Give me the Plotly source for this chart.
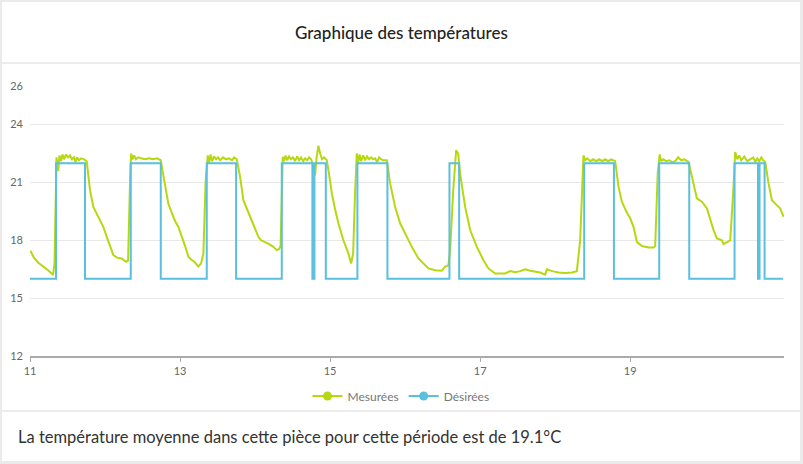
import plotly.graph_objects as go

# ---- data ----
title_text = "Graphique des températures"
footer_text = "La température moyenne dans cette pièce pour cette période est de 19.1°C"
series_names = ["Mesurées", "Désirées"]
x_ticks = [11, 13, 15, 17, 19]
y_ticks = [12, 15, 18, 21, 24, 26]

measured_day = [
    11.004, 11.053, 11.107, 11.160, 11.200, 11.240, 11.280, 11.307, 11.327, 11.353,
    11.367, 11.377, 11.393, 11.413, 11.433, 11.453, 11.480, 11.507, 11.533, 11.560,
    11.587, 11.607, 11.627, 11.653, 11.680, 11.720, 11.756, 11.777, 11.800, 11.844,
    11.889, 11.933, 11.977, 12.023, 12.067, 12.111, 12.160, 12.223, 12.280, 12.307,
    12.333, 12.347, 12.367, 12.387, 12.413, 12.440, 12.480, 12.533, 12.587, 12.640,
    12.693, 12.743, 12.767, 12.800, 12.844, 12.893, 12.933, 12.977, 13.027, 13.067,
    13.111, 13.147, 13.187, 13.213, 13.244, 13.280, 13.311, 13.340, 13.369, 13.387,
    13.407, 13.427, 13.453, 13.480, 13.507, 13.533, 13.573, 13.613, 13.653, 13.693,
    13.720, 13.756, 13.800, 13.844, 13.893, 13.956, 14.000, 14.044, 14.080, 14.133,
    14.187, 14.244, 14.289, 14.320, 14.340, 14.369, 14.387, 14.407, 14.427, 14.453,
    14.480, 14.507, 14.533, 14.560, 14.587, 14.613, 14.640, 14.667, 14.693, 14.720,
    14.747, 14.773, 14.800, 14.820, 14.844, 14.867, 14.893, 14.920, 14.956, 14.987,
    15.023, 15.067, 15.111, 15.177, 15.213, 15.244, 15.280, 15.307, 15.333, 15.356,
    15.373, 15.393, 15.413, 15.440, 15.467, 15.493, 15.520, 15.547, 15.573, 15.600,
    15.627, 15.653, 15.680, 15.707, 15.756, 15.800, 15.867, 15.933, 16.000, 16.089,
    16.177, 16.240, 16.311, 16.400, 16.489, 16.533, 16.577, 16.600, 16.640, 16.680,
    16.707, 16.733, 16.800, 16.867, 16.956, 17.044, 17.111, 17.200, 17.333, 17.400,
    17.467, 17.533, 17.600, 17.667, 17.733, 17.800, 17.867, 17.889, 17.960, 18.044,
    18.133, 18.223, 18.289, 18.333, 18.377, 18.400, 18.427, 18.467, 18.507, 18.547,
    18.587, 18.627, 18.667, 18.707, 18.747, 18.783, 18.800, 18.844, 18.889, 18.947,
    19.000, 19.044, 19.089, 19.156, 19.244, 19.311, 19.333, 19.367, 19.393, 19.413,
    19.440, 19.480, 19.520, 19.560, 19.600, 19.640, 19.680, 19.720, 19.777, 19.823,
    19.889, 19.956, 20.023, 20.111, 20.156, 20.223, 20.244, 20.293, 20.333, 20.373,
    20.400, 20.427, 20.453, 20.480, 20.520, 20.560, 20.600, 20.640, 20.667, 20.693,
    20.720, 20.747, 20.773, 20.800, 20.844, 20.889, 20.933, 21.000, 21.044,
]
measured_temp = [
    17.46, 17.10, 16.85, 16.70, 16.55, 16.45, 16.30, 16.20, 16.80, 22.30,
    22.00, 21.60, 22.40, 22.10, 22.45, 22.20, 22.45, 22.30, 22.40, 22.20,
    22.30, 22.05, 22.30, 22.15, 22.25, 22.20, 22.10, 21.46, 20.60, 19.73,
    19.40, 19.05, 18.70, 18.18, 17.70, 17.23, 17.10, 17.06, 16.89, 16.95,
    21.00, 22.50, 22.20, 22.40, 22.20, 22.30, 22.25, 22.20, 22.25, 22.20,
    22.25, 22.15, 21.60, 20.95, 19.90, 19.40, 19.00, 18.70, 18.20, 17.70,
    17.15, 17.00, 16.90, 16.75, 16.64, 16.80, 17.30, 21.00, 22.40, 22.00,
    22.45, 22.10, 22.35, 22.20, 22.30, 22.15, 22.30, 22.20, 22.25, 22.15,
    22.30, 22.20, 21.30, 20.08, 19.60, 19.05, 18.60, 18.18, 18.00, 17.92,
    17.80, 17.66, 17.49, 17.55, 17.70, 22.33, 22.10, 22.40, 22.15, 22.35,
    22.20, 22.30, 22.10, 22.35, 22.15, 22.30, 22.10, 22.25, 22.15, 22.30,
    22.20, 21.90, 21.38, 22.30, 22.90, 22.50, 22.20, 22.30, 22.15, 21.40,
    20.43, 19.60, 18.88, 18.00, 17.60, 17.32, 16.80, 17.30, 20.50, 22.50,
    22.00, 22.45, 22.10, 22.40, 22.15, 22.35, 22.20, 22.30, 22.20, 22.25,
    22.05, 22.30, 22.20, 22.15, 22.15, 20.95, 19.73, 18.88, 18.36, 17.66,
    17.06, 16.80, 16.54, 16.45, 16.42, 16.64, 16.70, 17.50, 20.50, 22.67,
    22.50, 21.46, 19.73, 18.53, 17.66, 16.97, 16.54, 16.28, 16.28, 16.40,
    16.35, 16.40, 16.50, 16.42, 16.37, 16.33, 16.22, 16.50, 16.40, 16.33,
    16.30, 16.33, 16.40, 18.00, 22.40, 22.15, 22.25, 22.10, 22.20, 22.10,
    22.20, 22.10, 22.20, 22.10, 22.20, 22.10, 22.10, 20.78, 20.00, 19.50,
    19.14, 18.70, 17.92, 17.70, 17.63, 17.63, 17.70, 21.50, 22.45, 22.10,
    22.20, 22.10, 22.15, 22.05, 22.10, 22.30, 22.15, 22.20, 22.06, 21.30,
    20.17, 20.00, 19.65, 18.53, 18.10, 18.00, 17.80, 17.90, 18.00, 20.50,
    22.58, 22.20, 22.40, 22.15, 22.35, 22.10, 22.20, 22.30, 22.05, 22.25,
    22.10, 22.30, 22.15, 22.06, 20.95, 20.08, 19.90, 19.65, 19.22,
]

setpoint_day = [
    11.000, 11.347, 11.733, 12.343, 12.743, 13.356, 13.747, 14.356, 14.764, 14.791,
    14.943, 15.364, 15.764, 16.591, 16.720, 18.387, 18.783, 19.387, 19.787, 20.391,
    20.703, 20.724, 20.791, 21.036,
]
setpoint_temp = [
    16, 22, 16, 22, 16, 22, 16, 22, 16, 22,
    16, 22, 16, 22, 16, 22, 16, 22, 16, 22,
    16, 22, 16, 16,
]

GREEN = "#b6d80f"
BLUE = "#5bbfdf"
FONT = "Lato"

W, H = 803, 464
L, R, T, B = 30, 19, 86, 108
pw, ph = W - L - R, H - T - B


def px(x):
    return (x - L) / pw


def py(y):
    return (H - B - y) / ph


fig = go.Figure()
fig.add_trace(go.Scatter(x=measured_day, y=measured_temp, mode="lines",
                         line=dict(color=GREEN, width=2), showlegend=False,
                         name=series_names[0]))
fig.add_trace(go.Scatter(x=setpoint_day, y=setpoint_temp, mode="lines",
                         line=dict(color=BLUE, width=2, shape="hv"), showlegend=False,
                         name=series_names[1]))
for nm, col in zip(series_names, [GREEN, BLUE]):
    fig.add_trace(go.Scatter(x=[None], y=[None], mode="lines+markers", name=nm,
                             line=dict(color=col, width=2),
                             marker=dict(color=col, size=9)))

shapes = [
    dict(type="rect", xref="paper", yref="paper", x0=px(2), x1=px(800), y0=py(461), y1=py(2),
         fillcolor="white", line=dict(width=0), layer="below"),
    dict(type="line", xref="paper", yref="paper", x0=px(2), x1=px(800), y0=py(63), y1=py(63),
         line=dict(color="#e6e6e6", width=1.5)),
    dict(type="line", xref="paper", yref="paper", x0=px(2), x1=px(800), y0=py(411), y1=py(411),
         line=dict(color="#e6e6e6", width=1.5)),
]

annotations = [
    dict(text=title_text, xref="paper", yref="paper", x=px(401), y=py(32),
         xanchor="center", yanchor="middle", showarrow=False,
         font=dict(family=FONT, size=17, color="#222", weight=500)),
    dict(text=footer_text, xref="paper", yref="paper", x=px(16), y=py(437),
         xanchor="left", yanchor="middle", showarrow=False,
         font=dict(family=FONT, size=16.5, color="#333")),
]

fig.update_layout(
    width=W, height=H,
    margin=dict(l=L, r=R, t=T, b=B, autoexpand=False),
    paper_bgcolor="#ebebeb",
    plot_bgcolor="rgba(0,0,0,0)",
    font=dict(family=FONT, color="#666", size=11),
    showlegend=True,
    legend=dict(orientation="h", x=px(401), y=py(396), xanchor="center", yanchor="middle",
                font=dict(family=FONT, size=12, color="#777"), itemwidth=30,
                bgcolor="rgba(0,0,0,0)"),
    shapes=shapes,
    annotations=annotations,
    xaxis=dict(range=[11, 21.05], tickvals=x_ticks, ticktext=[str(v) for v in x_ticks],
               showgrid=False, zeroline=False, showline=True, linecolor="#aaaaaa",
               linewidth=1.5, ticks="outside", ticklen=4, tickcolor="#aaaaaa",
               automargin=False, tickfont=dict(size=11, color="#666")),
    yaxis=dict(range=[12, 26], tickvals=y_ticks, showgrid=True, gridcolor="#e8e8e8",
               gridwidth=1, zeroline=False, showline=False, ticks="",
               ticklabelstandoff=6, automargin=False,
               tickfont=dict(size=11, color="#666")),
)

fig.write_html("out.html")
